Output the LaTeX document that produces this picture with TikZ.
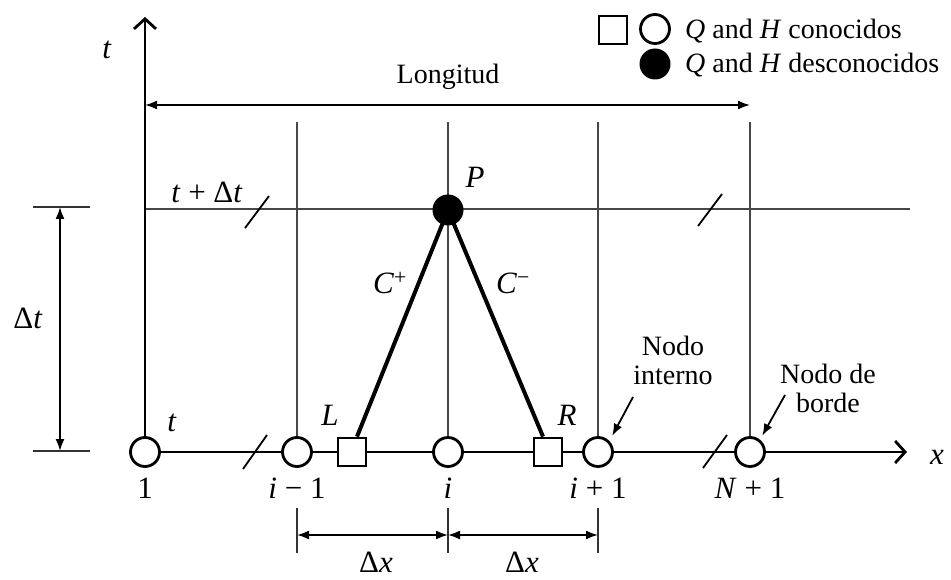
\documentclass[tikz,border=0pt]{standalone}
\usepackage{fontspec}
\setmainfont{Liberation Serif}
\usetikzlibrary{arrows.meta,backgrounds}
\begin{document}
\begin{tikzpicture}[x=1pt,y=-1pt,
  txt/.style={font=\fontsize{28}{29}\selectfont, inner sep=0pt, align=center},
  mlbl/.style={font=\fontsize{31}{33}\selectfont, inner sep=0pt},
  knode/.style={circle, draw, line width=2.8pt, fill=white, minimum size=29pt, inner sep=0pt},
  unode/.style={circle, fill=black, minimum size=31pt, inner sep=0pt},
  sqnode/.style={rectangle, draw, line width=2.8pt, fill=white, minimum size=28pt, inner sep=0pt},
  axisline/.style={line width=2.8pt, -{Straight Barb[length=10pt,width=22pt,line width=2.8pt]}},
  gridline/.style={line width=1.8pt, draw=black!72},
  dimline/.style={line width=1.8pt, {Latex[length=12pt,width=9pt]}-{Latex[length=12pt,width=9pt]}},
  tickline/.style={line width=1.5pt, draw=black!80},
  charline/.style={line width=4pt},
  ptr/.style={line width=1.8pt, -{Latex[length=12pt,width=9pt]}},
  slash/.style={line width=1.8pt},
]
\useasboundingbox (0,0) rectangle (951,580);

% nodes on the axis
\node[knode] (n1) at (145,452) {};
\node[knode] (nim1) at (297,452) {};
\node[sqnode] (L) at (352,452) {};
\node[knode] (ni) at (448,452) {};
\node[sqnode] (R) at (548,452) {};
\node[knode] (nip1) at (598,452) {};
\node[knode] (nN) at (750,452) {};
\node[unode] (P) at (448,210) {};

% coordinates
\coordinate (ttop) at (145,17);
\coordinate (xend) at (907,452);
\coordinate (tdl) at (145,209);
\coordinate (tdr) at (910,209);
\coordinate (gim1) at (297,122);
\coordinate (gi) at (448,122);
\coordinate (gip1) at (598,122);
\coordinate (gN) at (750,122);

\begin{scope}[on background layer]
  % grid lines
  \draw[gridline] (gim1) -- (nim1.center);
  \draw[gridline] (gi) -- (ni.center);
  \draw[gridline] (gip1) -- (nip1.center);
  \draw[gridline] (gN) -- (nN.center);
  \draw[gridline] (tdl) -- (tdr);
  % axes
  \draw[axisline] (n1.center) -- (ttop);
  \draw[axisline] (n1.center) -- (xend);
  % characteristics
  \draw[charline] (P.center) -- ([xshift=5pt]L.north);
  \draw[charline] (P.center) -- ([xshift=-5pt]R.north);
\end{scope}

% slashes
\draw[slash] (245,228) -- (269,196);
\draw[slash] (698,226) -- (722,194);
\draw[slash] (243,469) -- (267,435);
\draw[slash] (703,468) -- (727,435);

% axis labels
\node[mlbl] (tlab) at (107,50) {\textit{t}};
\node[mlbl] (xlab) at (937,457) {\textit{x}};
\node[mlbl] (l1) at (145,488) {1};
\node[mlbl] (lim1) at (297,488) {\textit{i} − 1};
\node[mlbl] (li) at (448,488) {\textit{i}};
\node[mlbl] (lip1) at (598,488) {\textit{i} + 1};
\node[mlbl] (lN) at (750,488) {\textit{N} + 1};
\node[mlbl] (tl) at (172,423) {\textit{t}};
\node[mlbl] (tdt) at (207,192) {\textit{t} + Δ\textit{t}};
\node[mlbl] (Plab) at (475,177) {\textit{P}};
\node[mlbl] (Llab) at (330,415) {\textit{L}};
\node[mlbl] (Rlab) at (567,415) {\textit{R}};
\node[mlbl] (cp) at (390,283) {\textit{C}\textsuperscript{+}};
\node[mlbl] (cm) at (513,283) {\textit{C}\textsuperscript{−}};

% Longitud
\node[txt] (long) at (448,77) {Longitud};
\coordinate (lga) at (145,105);
\coordinate (lgb) at (750,105);
\draw[dimline] (lga) -- (lgb);

% Delta t
\coordinate (dta) at (60,207);
\coordinate (dtb) at (60,451);
\draw[tickline] (33,207) -- (90,207);
\draw[tickline] (33,451) -- (90,451);
\draw[dimline] (dta) -- (dtb);
\node[mlbl] (dtlab) at (28,318) {Δ\textit{t}};

% Delta x
\draw[tickline] (297,508) -- (297,553);
\draw[tickline] (448,508) -- (448,553);
\draw[tickline] (598,508) -- (598,553);
\coordinate (dx1) at (297,535);
\coordinate (dx2) at (448,535);
\coordinate (dx3) at (598,535);
\draw[dimline] (dx1) -- (dx2);
\draw[dimline] (dx2) -- (dx3);
\node[mlbl] (dxl1) at (376,562) {Δ\textit{x}};
\node[mlbl] (dxl2) at (522,562) {Δ\textit{x}};

% node annotations
\node[txt] (nint) at (673,360) {Nodo\\interno};
\node[txt] (nbor) at (828,388) {Nodo de\\borde};
\coordinate (pa1) at (633,397);
\coordinate (pa2) at (785,395);
\draw[ptr] (pa1) -- ([shift={(3,-5)}]nip1.north east);
\draw[ptr] (pa2) -- ([shift={(1,-5)}]nN.north east);

% legend
\node[sqnode] (legsq) at (613,30) {};
\node[knode] (legc) at (655,29) {};
\node[unode] (legf) at (655,64) {};
\node[txt, anchor=west] (legt1) at (685,31) {\textit{Q} and \textit{H} conocidos};
\node[txt, anchor=west] (legt2) at (685,65) {\textit{Q} and \textit{H} desconocidos};
\end{tikzpicture}
\end{document}
